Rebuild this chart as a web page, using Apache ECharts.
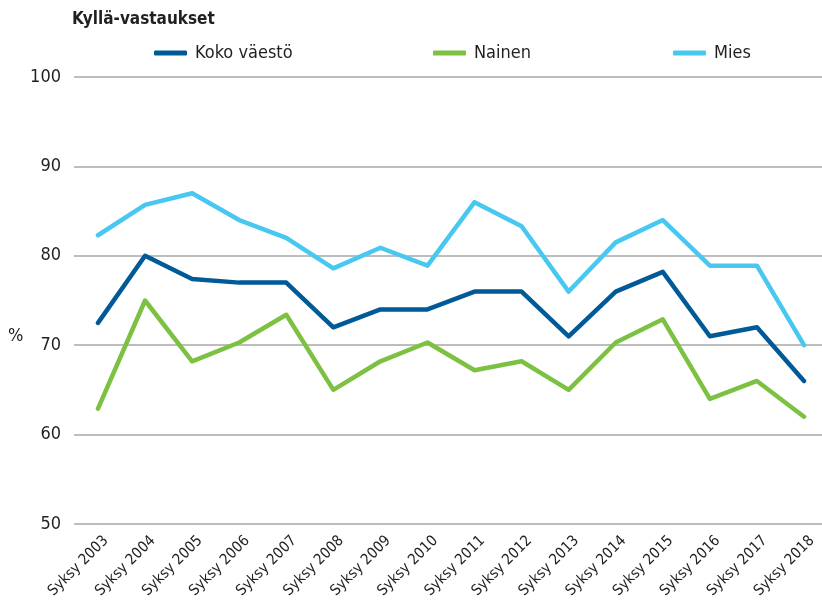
<!DOCTYPE html>
<html>
<head>
<meta charset="utf-8">
<script src="https://cdn.jsdelivr.net/npm/echarts@6/dist/echarts.min.js"></script>
<style>
  html, body { margin: 0; padding: 0; background: #fff; }
  #chart { width: 822px; height: 601px; }
</style>
</head>
<body>
<div id="chart"></div>
<script>
// data
var years = ['Syksy 2003', 'Syksy 2004', 'Syksy 2005', 'Syksy 2006', 'Syksy 2007', 'Syksy 2008',
  'Syksy 2009', 'Syksy 2010', 'Syksy 2011', 'Syksy 2012', 'Syksy 2013', 'Syksy 2014',
  'Syksy 2015', 'Syksy 2016', 'Syksy 2017', 'Syksy 2018']
var kokoVaesto = [72.5, 80, 77.4, 77, 77, 72, 74, 74, 76, 76, 71, 76, 78.2, 71, 72, 66]
var nainen = [62.9, 75, 68.2, 70.3, 73.4, 65, 68.2, 70.3, 67.2, 68.2, 65, 70.3, 72.9, 64, 66, 62]
var mies = [82.3, 85.7, 87, 84, 82, 78.6, 80.9, 78.9, 86, 83.3, 76, 81.5, 84, 78.9, 78.9, 70]
var yTicks = [50, 60, 70, 80, 90, 100]

var FONT = "'Liberation Sans Narrow', 'DejaVu Sans Condensed', sans-serif"
var TXT = '#231f20'
var colors = { koko: '#005a97', nainen: '#7cc142', mies: '#48c8f0' }

var chart = echarts.init(document.getElementById('chart'))

function lineSeries(name, data, color) {
  return {
    name: name,
    type: 'line',
    xAxisIndex: 0,
    yAxisIndex: 0,
    data: data,
    symbol: 'none',
    color: color,
    lineStyle: { width: 4.5, color: color, cap: 'round', join: 'round' },
    animation: false
  }
}

function legendAt(left, name) {
  return {
    left: left,
    top: 39,
    data: [name],
    icon: 'roundRect',
    itemWidth: 33,
    itemHeight: 5,
    itemGap: 0,
    textStyle: { fontFamily: FONT, fontSize: 18, color: TXT, padding: [0, 0, 0, 3] }
  }
}

chart.setOption({
  backgroundColor: '#fff',
  title: {
    text: 'Kyllä-vastaukset',
    left: 67,
    top: 6,
    textStyle: { fontFamily: FONT, fontSize: 17, fontWeight: 'bold', color: TXT }
  },
  legend: [
    legendAt(149, 'Koko väestö'),
    legendAt(428, 'Nainen'),
    legendAt(668, 'Mies')
  ],
  graphic: [{
    type: 'text',
    left: 8,
    top: 327,
    style: { text: '%', fontFamily: FONT, fontSize: 18, fill: TXT }
  }],
  grid: [
    { left: 98, right: 18, top: 77, bottom: 77 },   // lines
    { left: 74, right: 0, top: 77, bottom: 77 },    // split lines + y labels
    { left: 106, right: 10, top: 77, bottom: 77 }   // x labels
  ],
  xAxis: [
    { gridIndex: 0, type: 'category', data: years, boundaryGap: false, show: false },
    { gridIndex: 1, type: 'value', show: false },
    {
      gridIndex: 2,
      type: 'category',
      data: years,
      boundaryGap: false,
      axisLine: { show: false },
      axisTick: { show: false },
      axisLabel: {
        rotate: 45,
        interval: 0,
        margin: 19,
        fontFamily: FONT,
        fontSize: 15,
        color: TXT
      }
    }
  ],
  yAxis: [
    { gridIndex: 0, type: 'value', min: yTicks[0], max: yTicks[yTicks.length - 1], show: false },
    {
      gridIndex: 1,
      type: 'value',
      min: yTicks[0],
      max: yTicks[yTicks.length - 1],
      interval: 10,
      axisLine: { show: false },
      axisTick: { show: false },
      axisLabel: { margin: 13, fontFamily: FONT, fontSize: 18, color: TXT },
      splitLine: { lineStyle: { color: '#a7a7a7', width: 1.5 } }
    },
    { gridIndex: 2, type: 'value', min: 50, max: 100, show: false }
  ],
  series: [
    lineSeries('Koko väestö', kokoVaesto, colors.koko),
    lineSeries('Nainen', nainen, colors.nainen),
    lineSeries('Mies', mies, colors.mies)
  ]
})
</script>
</body>
</html>
